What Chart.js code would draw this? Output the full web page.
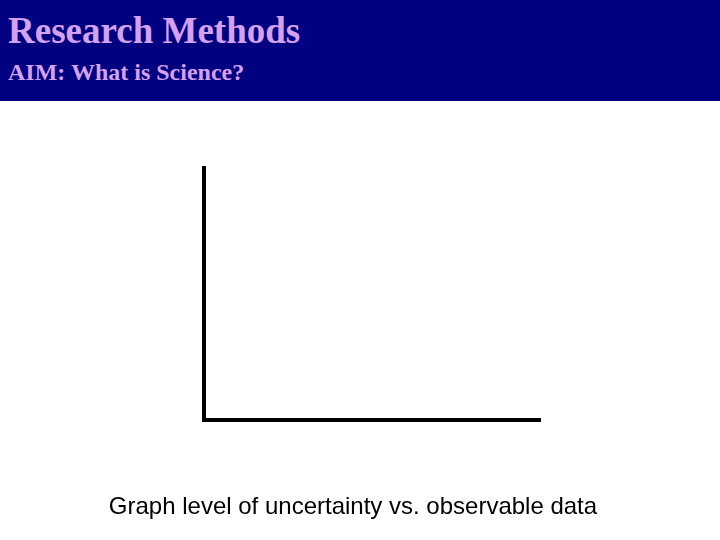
<!DOCTYPE html>
<html>
<head>
<meta charset="utf-8">
<script src="https://cdn.jsdelivr.net/npm/chart.js@4/dist/chart.umd.min.js"></script>
<style>
  html, body { margin: 0; padding: 0; width: 720px; height: 540px; background: #fff; overflow: hidden; }
  .head { position: absolute; left: 0; top: 0; width: 720px; height: 101px; background: #000080; }
  .title { position: absolute; left: 8px; top: 9px; font-family: "Liberation Serif", serif; font-weight: bold; font-size: 37px; color: #D4A0F0; white-space: nowrap; }
  .sub { position: absolute; left: 8px; top: 59px; font-family: "Liberation Serif", serif; font-weight: bold; font-size: 24px; color: #D4A0F0; white-space: nowrap; }
  .wrap { position: absolute; left: 0; top: 101px; width: 720px; height: 439px; }
  .caption { position: absolute; left: 0; width: 706px; top: 492px; text-align: center; font-family: "Liberation Sans", Arial, sans-serif; font-size: 24px; color: #000; white-space: nowrap; }
</style>
</head>
<body>
<div class="head">
  <div class="title">Research Methods</div>
  <div class="sub">AIM: What is Science?</div>
</div>
<div class="wrap"><canvas id="graph" width="720" height="439"></canvas></div>
<div class="caption">Graph level of uncertainty vs. observable data</div>
<script>
// empty axes - students are asked to draw the graph themselves
const xValues = []
const yValues = []
const xLabel = 'observable data'
const yLabel = 'level of uncertainty'

const points = xValues.map((x, i) => ({ x: x, y: yValues[i] }))

const graph = document.getElementById('graph')

new Chart(graph, {
  type: 'scatter',
  data: {
    datasets: [
      {
        label: yLabel + ' vs. ' + xLabel,
        data: points,
        pointRadius: 0
      }
    ]
  },
  options: {
    responsive: false,
    animation: false,
    plugins: {
      legend: { display: false },
      tooltip: { enabled: false }
    },
    layout: {
      padding: { left: 204, right: 180, top: 67, bottom: 120 }
    },
    scales: {
      x: {
        min: 0,
        max: 10,
        ticks: { display: false },
        grid: { display: false, drawTicks: false },
        border: { display: true, color: '#000', width: 4 }
      },
      y: {
        min: 0,
        max: 10,
        ticks: { display: false },
        grid: { display: false, drawTicks: false },
        border: { display: true, color: '#000', width: 4 }
      }
    }
  }
})
</script>
</body>
</html>
